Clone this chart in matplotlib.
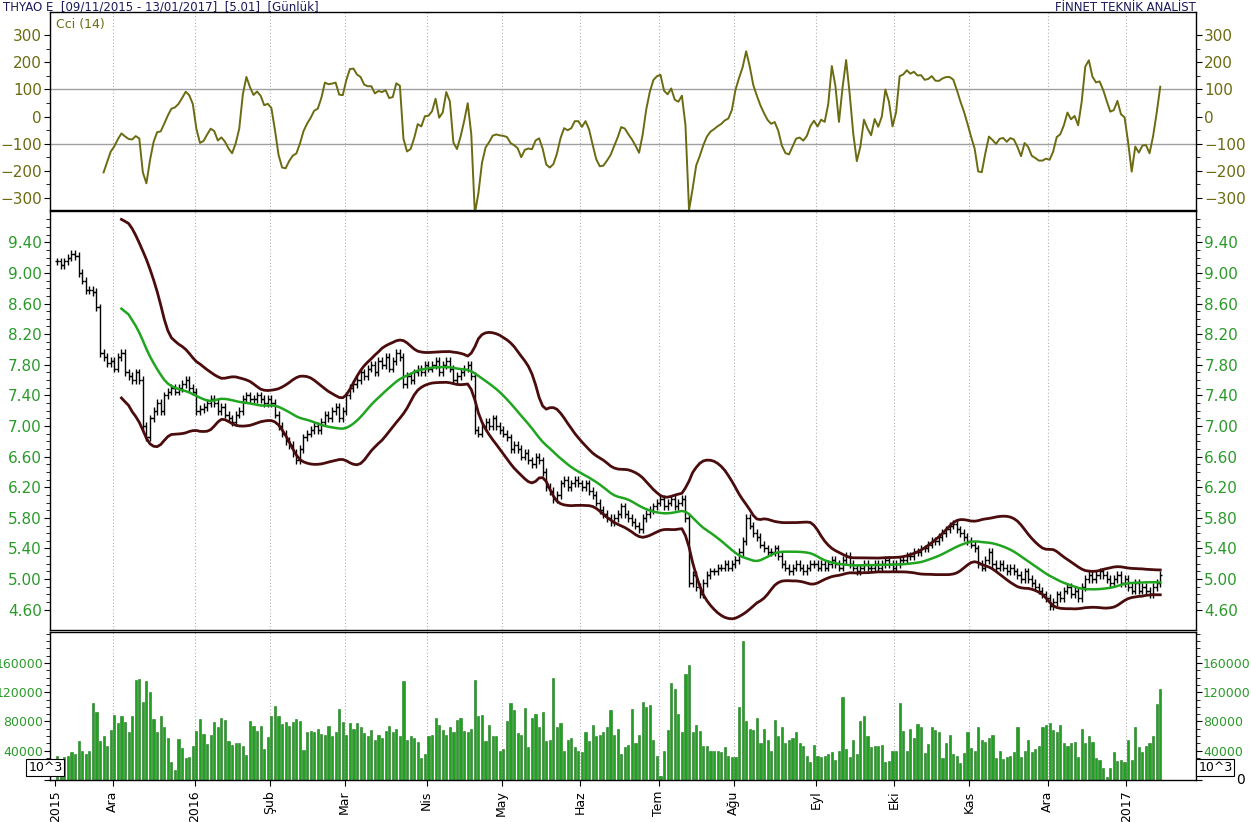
import numpy as np
import pandas as pd
import matplotlib

matplotlib.use("Agg")
import matplotlib.pyplot as plt

# daily closes per month (TRY)
close_by_month = {
    "2015-11": [9.15, 9.10, 9.15, 9.20, 9.25, 9.22, 9.00, 8.90, 8.78, 8.78, 8.75, 8.55, 7.95, 7.90, 7.82, 7.85],
    "2015-12": [7.75, 7.90, 7.95, 7.70, 7.65, 7.60, 7.70, 7.60, 7.00, 6.85, 7.10, 7.20, 7.30, 7.20, 7.40, 7.45,
                7.50, 7.45, 7.50, 7.55, 7.60, 7.50, 7.45],
    "2016-01": [7.20, 7.22, 7.25, 7.30, 7.35, 7.30, 7.20, 7.25, 7.15, 7.10, 7.05, 7.15, 7.20, 7.35, 7.40, 7.35,
                7.35, 7.40, 7.35, 7.30, 7.35],
    "2016-02": [7.30, 7.15, 7.00, 6.90, 6.80, 6.75, 6.65, 6.55, 6.70, 6.85, 6.90, 6.95, 7.00, 6.95, 7.05, 7.15,
                7.10, 7.20, 7.25, 7.10, 7.20],
    "2016-03": [7.40, 7.50, 7.55, 7.60, 7.70, 7.65, 7.75, 7.80, 7.70, 7.85, 7.80, 7.90, 7.75, 7.85, 7.95, 7.90,
                7.55, 7.65, 7.60, 7.70, 7.75, 7.70, 7.80],
    "2016-04": [7.75, 7.80, 7.85, 7.70, 7.80, 7.85, 7.75, 7.60, 7.65, 7.70, 7.75, 7.80, 7.65, 6.95, 6.90, 7.00,
                7.05, 7.00, 7.10, 7.00, 6.95],
    "2016-05": [6.90, 6.85, 6.70, 6.75, 6.70, 6.60, 6.65, 6.55, 6.50, 6.60, 6.55, 6.40, 6.20, 6.15, 6.05, 6.10,
                6.25, 6.30, 6.20, 6.25, 6.30, 6.25],
    "2016-06": [6.20, 6.25, 6.15, 6.10, 6.00, 5.90, 5.85, 5.80, 5.75, 5.80, 5.85, 5.95, 5.85, 5.80, 5.75, 5.70,
                5.65, 5.80, 5.85, 5.90, 5.95, 6.00],
    "2016-07": [6.05, 5.95, 6.00, 6.05, 5.95, 6.00, 6.05, 5.80, 4.95, 5.05, 4.90, 4.80, 4.95, 5.05, 5.10, 5.10,
                5.15, 5.15, 5.20, 5.15, 5.20],
    "2016-08": [5.25, 5.35, 5.50, 5.80, 5.70, 5.60, 5.55, 5.45, 5.40, 5.35, 5.35, 5.40, 5.30, 5.20, 5.15, 5.10,
                5.15, 5.20, 5.15, 5.10, 5.15, 5.20, 5.20],
    "2016-09": [5.15, 5.20, 5.15, 5.20, 5.25, 5.20, 5.15, 5.25, 5.30, 5.20, 5.15, 5.10, 5.15, 5.20, 5.15, 5.15,
                5.20, 5.15, 5.20, 5.25, 5.20, 5.15],
    "2016-10": [5.20, 5.25, 5.25, 5.30, 5.30, 5.35, 5.35, 5.40, 5.40, 5.45, 5.50, 5.50, 5.55, 5.60, 5.65, 5.70,
                5.72, 5.65, 5.60, 5.55, 5.50],
    "2016-11": [5.45, 5.40, 5.20, 5.15, 5.25, 5.35, 5.20, 5.15, 5.20, 5.15, 5.10, 5.15, 5.10, 5.05, 5.00, 5.10,
                5.00, 4.95, 4.90, 4.85, 4.80, 4.75],
    "2016-12": [4.65, 4.70, 4.80, 4.75, 4.85, 4.90, 4.80, 4.85, 4.75, 4.90, 5.00, 5.05, 5.00, 5.05, 5.10, 5.05,
                5.00, 4.95, 5.00, 5.05, 4.95, 5.00],
    "2017-01": [4.90, 4.85, 4.95, 4.85, 4.90, 4.85, 4.80, 4.90, 4.95, 5.05],
}

# daily volume per month (thousands of lots)
volume_by_month = {
    "2015-11": [33, 29, 31, 33, 38, 35, 54, 40, 35, 40, 105, 93, 53, 60, 47, 68],
    "2015-12": [89, 78, 88, 79, 66, 87, 137, 138, 107, 135, 120, 83, 65, 87, 72, 57, 25, 14, 56, 44, 30, 31, 47],
    "2016-01": [67, 83, 63, 49, 61, 79, 72, 85, 82, 53, 48, 50, 51, 47, 34, 80, 74, 67, 74, 43, 59],
    "2016-02": [88, 101, 88, 77, 79, 74, 79, 83, 80, 41, 66, 67, 65, 70, 63, 61, 74, 60, 65, 97, 79],
    "2016-03": [62, 78, 70, 78, 72, 64, 60, 68, 55, 62, 58, 67, 74, 65, 70, 60, 135, 55, 60, 58, 52, 30, 35],
    "2016-04": [60, 62, 85, 75, 68, 62, 72, 65, 82, 85, 67, 65, 70, 137, 88, 89, 53, 75, 60, 60, 40],
    "2016-05": [42, 80, 105, 95, 64, 62, 98, 45, 85, 90, 72, 93, 53, 55, 140, 72, 78, 40, 55, 57, 45, 40],
    "2016-06": [38, 65, 53, 75, 60, 62, 65, 72, 95, 62, 70, 35, 45, 48, 97, 50, 62, 107, 100, 103, 55, 33],
    "2016-07": [5, 40, 68, 133, 125, 90, 65, 145, 157, 65, 75, 67, 47, 47, 40, 40, 40, 38, 45, 33, 32],
    "2016-08": [32, 100, 190, 80, 70, 68, 85, 50, 70, 55, 40, 82, 60, 72, 50, 55, 58, 65, 50, 47, 33, 24, 48],
    "2016-09": [33, 32, 33, 36, 38, 27, 40, 113, 42, 31, 55, 35, 80, 87, 60, 45, 46, 47, 48, 24, 26, 40],
    "2016-10": [40, 105, 67, 40, 70, 58, 77, 73, 37, 49, 73, 68, 65, 30, 50, 62, 35, 33, 23, 37, 65],
    "2016-11": [44, 40, 72, 55, 52, 58, 62, 30, 40, 29, 32, 33, 38, 73, 31, 40, 55, 38, 43, 47, 72, 75],
    "2016-12": [78, 68, 65, 75, 50, 47, 50, 52, 32, 70, 50, 60, 52, 30, 27, 17, 4, 16, 38, 26, 28, 24],
    "2017-01": [55, 27, 72, 45, 38, 47, 50, 60, 104, 125],
}

month_names = {1: "2016", 2: "Şub", 3: "Mar", 4: "Nis", 5: "May", 6: "Haz", 7: "Tem", 8: "Ağu",
               9: "Eyl", 10: "Eki", 11: "Kas", 12: "Ara"}

GREEN = "#2a9a2a"
OLIVE = "#6b6b12"
MAROON = "#4a0c0c"


def build_frame():
    rows = []
    for key, closes in close_by_month.items():
        start = pd.Timestamp(key + "-01")
        if key == "2015-11":
            start = pd.Timestamp("2015-11-09")
        days = pd.bdate_range(start, start + pd.offsets.MonthEnd(0))[: len(closes)]
        for day, c, v in zip(days, closes, volume_by_month[key]):
            rows.append((day, c, v * 1000.0))
    df = pd.DataFrame(rows, columns=["date", "close", "volume"])
    df["open"] = df["close"].shift(1).fillna(df["close"])
    df["high"] = df[["open", "close"]].max(axis=1) + 0.05
    df["low"] = df[["open", "close"]].min(axis=1) - 0.05
    mid = df["close"].rolling(20).mean()
    std = df["close"].rolling(20).std(ddof=0)
    df["mid"] = mid.rolling(3, center=True, min_periods=1).mean()
    band = (2 * std).rolling(3, center=True, min_periods=1).mean()
    df["upper"] = df["mid"] + band
    df["lower"] = df["mid"] - band
    tp = (df["high"] + df["low"] + df["close"]) / 3
    sma = tp.rolling(14).mean()
    mad = tp.rolling(14).apply(lambda x: np.mean(np.abs(x - x.mean())), raw=True)
    df["cci"] = (tp - sma) / (0.015 * mad)
    return df


def main():
    df = build_frame()
    x = np.arange(len(df))
    month_start = [0] + [i for i in range(1, len(df)) if df["date"][i].month != df["date"][i - 1].month]
    month_lbl = ["2015"] + [
        "2017" if df["date"][i].year == 2017 else month_names[df["date"][i].month] for i in month_start[1:]
    ]

    fig = plt.figure(figsize=(12.51, 8.22), dpi=100)
    left, width = 0.040, 0.916
    ax_cci = fig.add_axes([left, 0.745, width, 0.240])
    ax_px = fig.add_axes([left, 0.234, width, 0.509])
    ax_vol = fig.add_axes([left, 0.051, width, 0.180])
    xlim = (-2, 319)

    for ax in (ax_cci, ax_px, ax_vol):
        ax.set_xlim(*xlim)
        for m in month_start[1:]:
            ax.axvline(m - 0.5, color="#b0b0b0", linestyle=(0, (1, 2)), linewidth=0.8, zorder=0)
        ax.tick_params(axis="y", which="both", left=True, right=True, labelleft=True, labelright=True,
                       labelsize=11, length=4, pad=2)
        ax.set_xticks([])
        for s in ax.spines.values():
            s.set_linewidth(1.0)

    # CCI
    ax_cci.plot(x, df["cci"], color=OLIVE, linewidth=1.4)
    ax_cci.axhline(100, color="#a0a0a0", linewidth=1.0, zorder=0)
    ax_cci.axhline(-100, color="#a0a0a0", linewidth=1.0, zorder=0)
    ax_cci.set_ylim(-344, 385)
    ax_cci.set_yticks(range(-300, 301, 100))
    ax_cci.set_yticks(range(-250, 301, 100), minor=True)
    ax_cci.tick_params(axis="y", which="minor", length=3, left=True, right=True)
    ax_cci.tick_params(axis="y", labelcolor=OLIVE)
    ax_cci.text(0.005, 0.97, "Cci (14)", transform=ax_cci.transAxes, color=OLIVE, fontsize=9, va="top")

    # price bars
    ax_px.vlines(x, df["low"], df["high"], color="black", linewidth=1.0)
    ax_px.hlines(df["open"], x - 0.6, x, color="black", linewidth=1.0)
    ax_px.hlines(df["close"], x, x + 0.6, color="black", linewidth=1.0)
    ax_px.plot(x, df["upper"], color=MAROON, linewidth=2.0)
    ax_px.plot(x, df["lower"], color=MAROON, linewidth=2.0)
    ax_px.plot(x, df["mid"], color="#1fa51f", linewidth=1.8)
    ax_px.set_ylim(4.34, 9.805)
    ticks = np.arange(4.6, 9.41, 0.4)
    ax_px.set_yticks(ticks)
    ax_px.set_yticklabels([f"{v:.2f}" for v in ticks])
    ax_px.set_yticks(np.arange(4.6, 9.71, 0.1), minor=True)
    ax_px.tick_params(axis="y", which="minor", length=3, left=True, right=True)
    for lbl in ax_px.get_yticklabels():
        lbl.set_color(GREEN)

    # volume
    ax_vol.bar(x, df["volume"], width=0.6, color="#22a022", edgecolor="#1d7a1d", linewidth=0.4)
    ax_vol.set_ylim(0, 202000)
    vticks = list(range(0, 160001, 40000))
    ax_vol.set_yticks(vticks)
    ax_vol.set_yticks(range(0, 200001, 10000), minor=True)
    ax_vol.tick_params(axis="y", which="both", labelsize=9, pad=1)
    ax_vol.tick_params(axis="y", which="minor", length=3, left=True, right=True)
    ax_vol.set_yticklabels(["" if v == 0 else str(v) for v in vticks])
    for lbl in ax_vol.get_yticklabels():
        lbl.set_color(GREEN)
    ax_vol.text(1.035, 0.0, "0", transform=ax_vol.transAxes, fontsize=10, va="center")
    ax_vol.set_xticks([m - 0.5 for m in month_start])
    ax_vol.set_xticklabels(month_lbl, rotation=90, fontsize=9)
    ax_vol.tick_params(axis="x", length=4)
    for xpos in (-0.019, 1.002):
        ax_vol.text(xpos, 0.06, "10^3", transform=ax_vol.transAxes, fontsize=9, zorder=10, ha="left",
                    bbox=dict(boxstyle="square,pad=0.15", facecolor="white", edgecolor="black", linewidth=0.8))

    fig.text(0.002, 0.999, "THYAO E  [09/11/2015 - 13/01/2017]  [5.01]  [Günlük]", fontsize=8.5,
             color="#1a1a5a", va="top")
    fig.text(0.956, 0.999, "FİNNET TEKNİK ANALİST", fontsize=8.5, color="#1a1a5a", va="top", ha="right")
    fig.savefig("out.png", dpi=100)
    plt.close(fig)


if __name__ == "__main__":
    main()
